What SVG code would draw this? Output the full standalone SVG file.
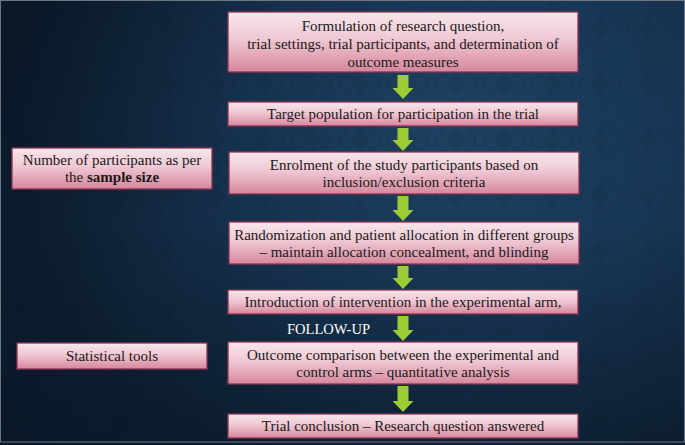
<svg xmlns="http://www.w3.org/2000/svg" width="685" height="445" viewBox="0 0 685 445">
<defs>
<radialGradient id="bgGlow" cx="440" cy="120" r="420" gradientUnits="userSpaceOnUse">
<stop offset="0" stop-color="#21466a"/>
<stop offset="0.55" stop-color="#183655"/>
<stop offset="1" stop-color="#10253b"/>
</radialGradient>
<linearGradient id="bgShade" x1="0" y1="0" x2="1" y2="0.35">
<stop offset="0" stop-color="#050c16" stop-opacity="0.55"/>
<stop offset="0.4" stop-color="#050c16" stop-opacity="0.15"/>
<stop offset="1" stop-color="#050c16" stop-opacity="0"/>
</linearGradient>
<linearGradient id="bgBottom" x1="0" y1="0" x2="0" y2="1">
<stop offset="0.5" stop-color="#050c16" stop-opacity="0"/>
<stop offset="1" stop-color="#050c16" stop-opacity="0.35"/>
</linearGradient>
<pattern id="damask" width="48" height="56" patternUnits="userSpaceOnUse">
<path d="M24 4 C30 14 40 18 44 28 C40 38 30 42 24 52 C18 42 8 38 4 28 C8 18 18 14 24 4 Z" fill="none" stroke="#0a1a2c" stroke-width="2" opacity="0.15"/>
<path d="M24 16 C28 22 32 24 34 28 C32 32 28 34 24 40 C20 34 16 32 14 28 C16 24 20 22 24 16 Z" fill="#0a1a2c" opacity="0.1"/>
</pattern>
<linearGradient id="boxFill" x1="0" y1="0" x2="0" y2="1">
<stop offset="0" stop-color="#f8e6eb"/>
<stop offset="0.45" stop-color="#efc8d3"/>
<stop offset="1" stop-color="#d6869c"/>
</linearGradient>
<style>
.box{fill:url(#boxFill);stroke:#8a3452;stroke-width:1.3}
.t{font-family:'Liberation Serif','Times New Roman',Times,'DejaVu Serif',serif;font-size:15px;fill:#1a1a1a;text-anchor:middle}
.arrow{fill:#9ccb34}
.fu{font-family:'Liberation Serif','Times New Roman',Times,'DejaVu Serif',serif;font-size:15px;fill:#ffffff}
</style>
</defs>
<rect x="0" y="0" width="685" height="445" fill="url(#bgGlow)"/>
<rect x="0" y="0" width="685" height="445" fill="url(#damask)"/>
<rect x="0" y="0" width="685" height="445" fill="url(#bgShade)"/>
<rect x="0" y="0" width="685" height="445" fill="url(#bgBottom)"/>
<rect x="0.5" y="0.5" width="684" height="441.5" fill="none" stroke="#6d7782" stroke-width="1"/>

<g id="connectors">
<path class="arrow" d="M397.5 75 H408.5 V88 H413.5 L403 99 L392.5 88 H397.5 Z"/>
<path class="arrow" d="M397.5 128 H408.5 V140 H413.5 L403 151 L392.5 140 H397.5 Z"/>
<path class="arrow" d="M397.5 196 H408.5 V210 H413.5 L403 221 L392.5 210 H397.5 Z"/>
<path class="arrow" d="M397.5 266 H408.5 V278 H413.5 L403 289 L392.5 278 H397.5 Z"/>
<path class="arrow" d="M397.5 316 H408.5 V330 H413.5 L403 341 L392.5 330 H397.5 Z"/>
<path class="arrow" d="M397.5 386 H408.5 V401 H413.5 L403 412 L392.5 401 H397.5 Z"/>
</g>

<g id="n1">
<rect class="box" x="228" y="12" width="350" height="60"/>
<text class="t" x="403" y="31" font-family="Liberation Serif, serif">Formulation of research question,</text>
<text class="t" x="403" y="49" font-family="Liberation Serif, serif">trial settings, trial participants, and determination of</text>
<text class="t" x="403" y="67" font-family="Liberation Serif, serif">outcome measures</text>
</g>
<g id="n2">
<rect class="box" x="228" y="102" width="350" height="24"/>
<text class="t" x="403" y="119">Target population for participation in the trial</text>
</g>
<g id="n3">
<rect class="box" x="229" y="152" width="350" height="42"/>
<text class="t" x="404" y="170">Enrolment of the study participants based on</text>
<text class="t" x="404" y="187">inclusion/exclusion criteria</text>
</g>
<g id="n4">
<rect class="box" x="229" y="222" width="350" height="42"/>
<text class="t" x="404" y="240">Randomization and patient allocation in different groups</text>
<text class="t" x="404" y="257">– maintain allocation concealment, and blinding</text>
</g>
<g id="n5">
<rect class="box" x="228" y="290" width="350" height="24"/>
<text class="t" x="403" y="307">Introduction of intervention in the experimental arm,</text>
</g>
<g id="followup">
<text class="fu" x="287" y="334" textLength="83" lengthAdjust="spacingAndGlyphs">FOLLOW-UP</text>
</g>
<g id="n6">
<rect class="box" x="228" y="342" width="350" height="42"/>
<text class="t" x="403" y="360">Outcome comparison between the experimental and</text>
<text class="t" x="403" y="377">control arms – quantitative analysis</text>
</g>
<g id="n7">
<rect class="box" x="228" y="414" width="350" height="24"/>
<text class="t" x="403" y="431">Trial conclusion – Research question answered</text>
</g>
<g id="n8">
<rect class="box" x="12" y="148" width="200" height="41"/>
<text class="t" x="112" y="165">Number of participants as per</text>
<text class="t" x="112" y="182">the <tspan font-weight="bold">sample size</tspan></text>
</g>
<g id="n9">
<rect class="box" x="17" y="343" width="190" height="26"/>
<text class="t" x="112" y="361">Statistical tools</text>
</g>
</svg>
